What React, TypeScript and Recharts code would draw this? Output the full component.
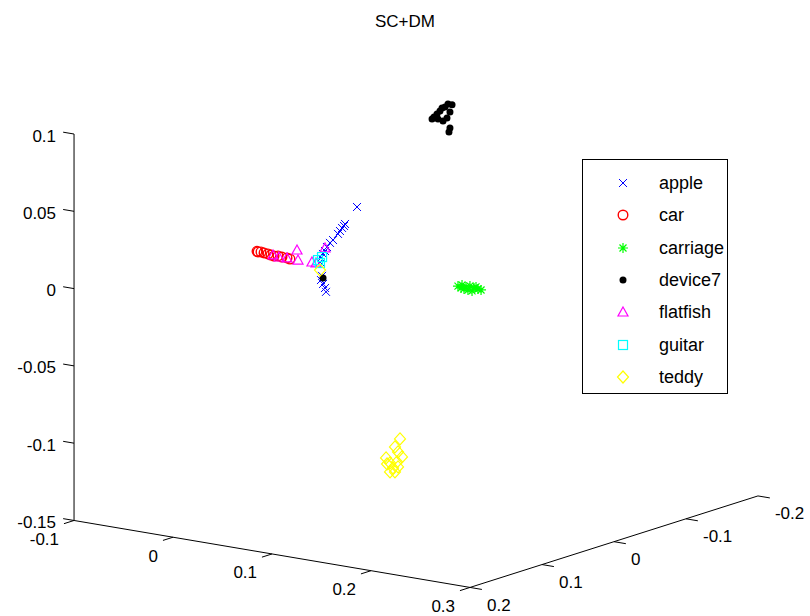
import { ScatterChart, Scatter, XAxis, YAxis, ReferenceLine, Legend } from 'recharts';

type P3 = [number, number, number];

const classNames = ['apple', 'car', 'carriage', 'device7', 'flatfish', 'guitar', 'teddy'];
const classColors = ['#0000ff', '#ff0000', '#00ff00', '#000000', '#ff00ff', '#00ffff', '#ffff00'];
const classMarkers = ['x', 'o', '*', '.', '^', 's', 'd'];

// embedding coordinates (x, y, z) per class
const apple: P3[] = [
  [0.0404, 0, 0.0384], [0.0283, 0, 0.0261], [0.0273, 0, 0.0247], [0.0253, 0, 0.0232],
  [0.0232, 0, 0.021], [0.0212, 0, 0.0189], [0.0162, 0, 0.0144], [0.0131, 0, 0.0122],
  [0.0101, 0, 0.0092], [0.0081, 0, 0.0064], [0.0061, 0, 0.0043], [0.004, 0, 0.0015],
  [0.003, 0, -0.0012], [0.0051, 0, -0.01], [0.004, 0, -0.0128], [0.0061, 0, -0.0151],
  [0.0081, 0, -0.0175], [0.0091, 0, -0.0199],
];
const car: P3[] = [
  [-0.0606, 0, -0.0012], [-0.0596, 0, -0.0015], [-0.0566, 0, -0.0012], [-0.0535, 0, -0.0015],
  [-0.0495, 0, -0.0017], [-0.0465, 0, -0.0021], [-0.0434, 0, -0.0024], [-0.0394, 0, -0.0019],
  [-0.0354, 0, -0.0022], [-0.0303, 0, -0.0022], [-0.0273, 0, -0.0026],
];
const carriage: P3[] = [
  [0.1424, 0, -0.0017], [0.1465, 0, -0.0006], [0.1505, 0, -0.0014], [0.1545, 0, -0.0003],
  [0.1586, 0, -0.0012], [0.1626, 0, -0.0014], [0.1657, 0, -0.0017], [0.1485, 0, -0.0029],
  [0.1525, 0, -0.0032], [0.1566, 0, -0.0033], [0.1606, 0, -0.0003], [0.1455, 0, -0.0026],
];
const device7: P3[] = [
  [0.1364, 0, 0.1149], [0.1323, 0, 0.115], [0.1293, 0, 0.1127], [0.1263, 0, 0.1117],
  [0.1242, 0, 0.1096], [0.1212, 0, 0.1073], [0.1182, 0, 0.1051], [0.1162, 0, 0.1035],
  [0.1222, 0, 0.1042], [0.1273, 0, 0.1034], [0.1313, 0, 0.1058], [0.1343, 0, 0.11],
  [0.1343, 0, 0.0996], [0.1333, 0, 0.097], [0.0061, 0, -0.0112],
];
const flatfish: P3[] = [
  [-0.0444, 0, -0.0018], [-0.0384, 0, -0.0025], [-0.0303, 0, -0.0022], [-0.0202, 0, 0.004],
  [-0.0192, 0, -0.0024], [-0.0051, 0, -0.0021], [0.0081, 0, 0.0084], [-0.001, 0, -0.0023],
];
const guitar: P3[] = [
  [0.001, 0, -0.0002], [0.0051, 0, 0.0022], [0.003, 0, -0.0019],
];
const teddy: P3[] = [
  [0.0693, -0.02, -0.1115], [0.0642, -0.02, -0.1172], [0.0673, -0.02, -0.1201], [0.0713, -0.02, -0.1229],
  [0.0552, -0.02, -0.1253], [0.0592, -0.02, -0.1281], [0.0663, -0.02, -0.1267], [0.0622, -0.02, -0.131],
  [0.0592, -0.02, -0.1339], [0.0673, -0.02, -0.1298], [0.0562, -0.02, -0.1291], [0.0642, -0.02, -0.1334],
  [-0.0115, -0.02, -0.011],
];
const classPoints = [apple, car, carriage, device7, flatfish, guitar, teddy];

const xTicks = [-0.1, 0, 0.1, 0.2, 0.3];
const yTicks = [0.2, 0.1, 0, -0.1, -0.2];
const zTicks = [0.1, 0.05, 0, -0.05, -0.1, -0.15];

const X_MIN = -0.1, X_MAX = 0.3;
const Y_MIN = -0.2, Y_MAX = 0.2;
const Z_MIN = -0.15, Z_MAX = 0.1;

// view: how one unit of x / y moves on the page, measured in z units
const VX = [0.6404, -0.1083];
const VY = [-0.4657, -0.148];

// page window in projected units (z axis drawn at u = 0)
const U_DOMAIN = [-0.0479, 0.4761];
const W_DOMAIN = [-0.2118, 0.1867];

const W = 810;
const H = 616;
const FONT = '"Liberation Sans", Arial, Helvetica, sans-serif';

function project([x, y, z]: P3) {
  const dx = x - X_MIN;
  const dy = y - Y_MAX;
  return { u: dx * VX[0] + dy * VY[0], w: z + dx * VX[1] + dy * VY[1] };
}

function seg(a: P3, b: P3) {
  const p = project(a);
  const q = project(b);
  return [{ x: p.u, y: p.w }, { x: q.u, y: q.w }];
}

const axisSegments = [
  seg([X_MIN, Y_MAX, Z_MIN], [X_MIN, Y_MAX, Z_MAX]),
  seg([X_MIN, Y_MAX, Z_MIN], [X_MAX, Y_MAX, Z_MIN]),
  seg([X_MAX, Y_MAX, Z_MIN], [X_MAX, Y_MIN, Z_MIN]),
  ...zTicks.map((z) => seg([X_MIN, Y_MAX, z], [X_MIN - 0.011, Y_MAX, z])),
  ...xTicks.map((x) => seg([x, Y_MAX, Z_MIN], [x, Y_MAX + 0.014, Z_MIN])),
  ...yTicks.map((y) => seg([X_MAX, y, Z_MIN], [X_MAX + 0.012, y, Z_MIN])),
];

const zLabels = zTicks.map((z) => ({ ...project([X_MIN, Y_MAX, z]), text: String(z) }));
const xLabels = xTicks.map((x) => ({ ...project([x, Y_MAX, Z_MIN]), text: String(x) }));
const yLabels = yTicks.map((y) => ({ ...project([X_MAX, y, Z_MIN]), text: String(y) }));

const series = classNames.map((name, i) => ({
  name,
  color: classColors[i],
  marker: classMarkers[i],
  data: classPoints[i].map(project),
}));

function Marker({ kind, cx, cy, color }: { kind: string; cx: number; cy: number; color: string }) {
  switch (kind) {
    case 'x':
      return <path d={`M${cx - 4},${cy - 4}L${cx + 4},${cy + 4}M${cx - 4},${cy + 4}L${cx + 4},${cy - 4}`} stroke={color} fill="none" />;
    case 'o':
      return <circle cx={cx} cy={cy} r={4.8} stroke={color} strokeWidth={1.4} fill="none" />;
    case '*':
      return (
        <path
          d={`M${cx - 5},${cy}L${cx + 5},${cy}M${cx},${cy - 5}L${cx},${cy + 5}M${cx - 3.5},${cy - 3.5}L${cx + 3.5},${cy + 3.5}M${cx - 3.5},${cy + 3.5}L${cx + 3.5},${cy - 3.5}`}
          stroke={color}
          strokeWidth={1.2}
          fill="none"
        />
      );
    case '.':
      return <circle cx={cx} cy={cy} r={3.5} fill={color} />;
    case '^':
      return <path d={`M${cx},${cy - 5}L${cx + 5},${cy + 4}L${cx - 5},${cy + 4}Z`} stroke={color} strokeWidth={1.2} fill="none" />;
    case 's':
      return <rect x={cx - 4.5} y={cy - 4.5} width={9} height={9} stroke={color} strokeWidth={1.2} fill="none" />;
    default:
      return <path d={`M${cx},${cy - 6}L${cx + 5.5},${cy}L${cx},${cy + 6}L${cx - 5.5},${cy}Z`} stroke={color} strokeWidth={1.2} fill="none" />;
  }
}

const labelText = (anchor: 'start' | 'end', dx: number, dy: number) => (props: any) => {
  const { cx, cy, payload } = props;
  return (
    <text x={cx + dx} y={cy + dy} textAnchor={anchor} dominantBaseline="central" fontSize={17} fontFamily={FONT} fill="#000">
      {payload.text}
    </text>
  );
};

const LegendBox = () => (
  <div style={{ width: 144, height: 233, border: '1px solid #000', background: '#fff', boxSizing: 'content-box', position: 'relative' }}>
    {series.map((s, i) => (
      <div key={s.name} style={{ position: 'absolute', left: 0, top: 11 + i * 32.3, height: 24, width: 144 }}>
        <svg width={60} height={24} style={{ position: 'absolute', left: 0, top: 0 }}>
          <Marker kind={s.marker} cx={40} cy={12} color={s.color} />
        </svg>
        <span style={{ position: 'absolute', left: 76, top: 0, lineHeight: '24px', fontSize: 18, fontFamily: FONT, color: '#000' }}>
          {s.name}
        </span>
      </div>
    ))}
  </div>
);

export default function App() {
  return (
    <div style={{ position: 'absolute', left: 0, top: 0, width: W, height: H, background: '#fff' }}>
      <div style={{ position: 'absolute', left: 0, top: 11, width: W, textAlign: 'center', fontSize: 17, lineHeight: '22px', fontFamily: FONT }}>
        SC+DM
      </div>
      <ScatterChart width={W} height={H} margin={{ top: 0, right: 0, bottom: 0, left: 0 }}>
        <XAxis type="number" dataKey="u" domain={U_DOMAIN} allowDataOverflow hide />
        <YAxis type="number" dataKey="w" domain={W_DOMAIN} allowDataOverflow hide />
        {axisSegments.map((s, i) => (
          <ReferenceLine key={i} segment={s} stroke="#000" strokeWidth={1} ifOverflow="visible" />
        ))}
        {series.map((s) => (
          <Scatter
            key={s.name}
            name={s.name}
            data={s.data}
            fill={s.color}
            isAnimationActive={false}
            shape={(p: any) => <Marker kind={s.marker} cx={p.cx} cy={p.cy} color={s.color} />}
          />
        ))}
        <Scatter data={zLabels} legendType="none" isAnimationActive={false} shape={labelText('end', -18, 2)} />
        <Scatter data={xLabels} legendType="none" isAnimationActive={false} shape={labelText('end', -15, 19)} />
        <Scatter data={yLabels} legendType="none" isAnimationActive={false} shape={labelText('start', 17, 18)} />
        <Legend
          layout="vertical"
          align="center"
          verticalAlign="middle"
          content={() => <LegendBox />}
          wrapperStyle={{ left: 582, top: 159, width: 146, height: 235 }}
        />
      </ScatterChart>
    </div>
  );
}
